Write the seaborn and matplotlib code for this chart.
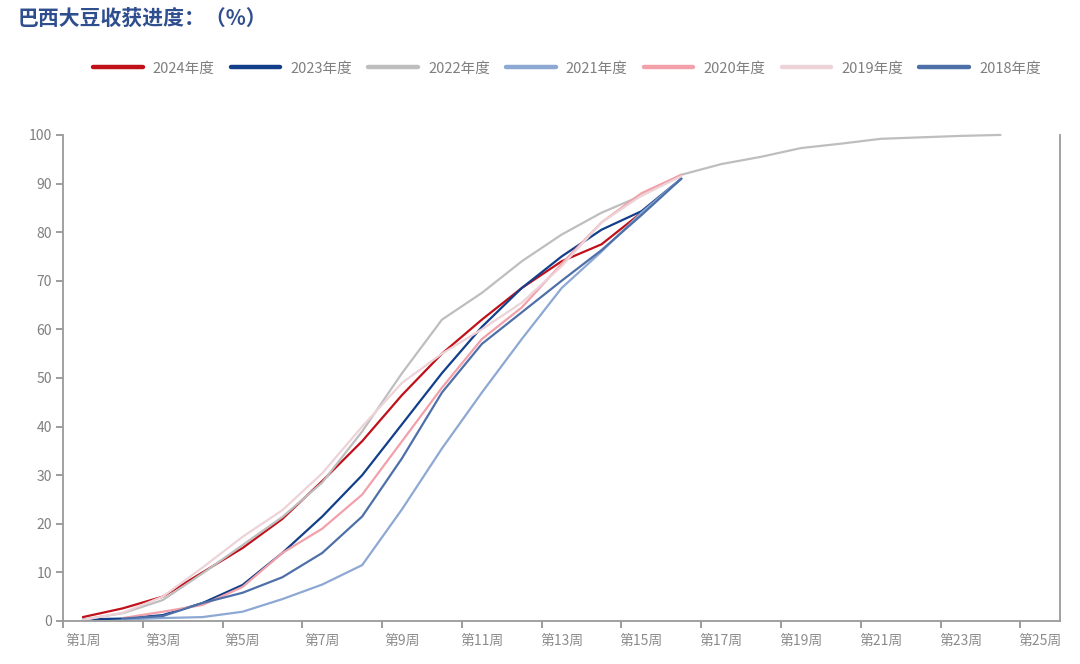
import numpy as np
import pandas as pd
import matplotlib
matplotlib.use("Agg")
import matplotlib.pyplot as plt
import seaborn as sns

# =====================================================
# DATA  (% of soybean area harvested)
# =====================================================

years = ["2024年度", "2023年度", "2022年度", "2021年度", "2020年度", "2019年度", "2018年度"]
colors = ["#C0101A", "#123F8A", "#BEBEBE", "#8EA8D4", "#F2A0AA", "#EDD3D7", "#4E70A8"]

weeks_2024 = list(range(1, 16))
vals_2024 = [0.8, 2.6, 5.0, 10.0, 15.0, 21.0, 28.8, 37.0, 46.5, 55.0, 62.0, 68.5, 74.0, 77.5, 84.0]

weeks_2023 = list(range(1, 17))
vals_2023 = [0.3, 0.5, 1.2, 3.7, 7.4, 14.0, 21.5, 30.0, 40.5, 51.0, 60.5, 68.5, 75.0, 80.5, 84.3, 91.0]

weeks_2022 = list(range(1, 25))
vals_2022 = [0.3, 1.6, 4.3, 9.8, 15.6, 21.4, 28.5, 39.0, 51.0, 62.0, 67.5, 74.0, 79.5, 84.0, 87.5, 91.8,
             94.0, 95.5, 97.3, 98.2, 99.2, 99.5, 99.8, 100.0]

weeks_2021 = list(range(2, 17))
vals_2021 = [0.3, 0.6, 0.8, 1.9, 4.5, 7.5, 11.5, 23.0, 35.5, 47.0, 58.0, 68.5, 76.0, 84.0, 91.0]

weeks_2020 = list(range(2, 17))
vals_2020 = [0.6, 1.9, 3.3, 7.0, 14.0, 19.0, 26.0, 37.0, 48.0, 58.0, 64.5, 73.5, 82.0, 88.0, 91.8]

weeks_2019 = list(range(1, 17))
vals_2019 = [0.2, 1.7, 5.0, 11.0, 17.3, 22.8, 30.4, 40.0, 49.0, 55.0, 60.0, 65.5, 73.0, 82.0, 87.5, 91.5]

weeks_2018 = list(range(2, 17))
vals_2018 = [0.5, 1.0, 3.7, 5.8, 9.0, 14.0, 21.5, 33.5, 47.0, 57.0, 63.5, 70.0, 76.3, 83.5, 91.0]

tick_weeks = list(range(1, 26, 2))
tick_labels = ["第%d周" % w for w in tick_weeks]

title = "巴西大豆收获进度：（%）"

# =====================================================
# LONG FORM TABLE FOR SEABORN
# =====================================================

frames = []
for year, wk, vals in zip(
    years,
    [weeks_2024, weeks_2023, weeks_2022, weeks_2021, weeks_2020, weeks_2019, weeks_2018],
    [vals_2024, vals_2023, vals_2022, vals_2021, vals_2020, vals_2019, vals_2018],
):
    frames.append(pd.DataFrame({"week": wk, "value": vals, "year": year}))
df = pd.concat(frames, ignore_index=True)

# =====================================================
# PLOT
# =====================================================

sns.set_theme(style="white")
plt.rcParams["font.family"] = ["Noto Sans CJK SC", "DejaVu Sans"]

fig = plt.figure(figsize=(10.8, 6.64), dpi=100)
ax = fig.add_axes([0.0583, 0.0648, 0.9235, 0.732])

sns.lineplot(
    data=df,
    x="week",
    y="value",
    hue="year",
    hue_order=years,
    palette=dict(zip(years, colors)),
    linewidth=1.6,
    legend=False,
    ax=ax,
)
for line in ax.lines:
    line.set_clip_on(False)

ax.set_xlim(0.5, 25.5)
ax.set_ylim(0, 100)
ax.set_yticks(range(0, 101, 10))
ax.set_xlabel("")
ax.set_ylabel("")

# tick marks sit between categories, labels on odd weeks
ax.set_xticks(np.arange(0.5, 25, 2))
ax.set_xticklabels([])
ax.set_xticks(tick_weeks, minor=True)
ax.set_xticklabels(tick_labels, minor=True)
ax.tick_params(axis="x", which="major", direction="out", length=5, width=1.2,
               color="#8c8c8c", bottom=True)
ax.tick_params(axis="x", which="minor", length=0, pad=9, labelsize=10,
               labelcolor="#8c8c8c", bottom=True)
ax.tick_params(axis="y", direction="out", length=5, width=1.2, color="#8c8c8c",
               labelsize=10, labelcolor="#7f7f7f", left=True, pad=3)

for side in ["left", "bottom", "right"]:
    ax.spines[side].set_visible(True)
    ax.spines[side].set_color("#9a9a9a")
    ax.spines[side].set_linewidth(1.3)
ax.spines["top"].set_visible(False)

# legend
handles = [plt.Line2D([], [], color=c, linewidth=3.2, solid_capstyle="round") for c in colors]
fig.legend(
    handles,
    years,
    loc="center",
    bbox_to_anchor=(0.525, 0.897),
    ncol=7,
    frameon=False,
    fontsize=10.5,
    labelcolor="#7f7f7f",
    handlelength=3.4,
    handletextpad=0.7,
    columnspacing=1.1,
)

fig.text(0.016, 0.988, title, fontsize=15, fontweight="bold", color="#2F4E8E",
         va="top", ha="left")

fig.savefig("out.png", dpi=100)
plt.close(fig)
